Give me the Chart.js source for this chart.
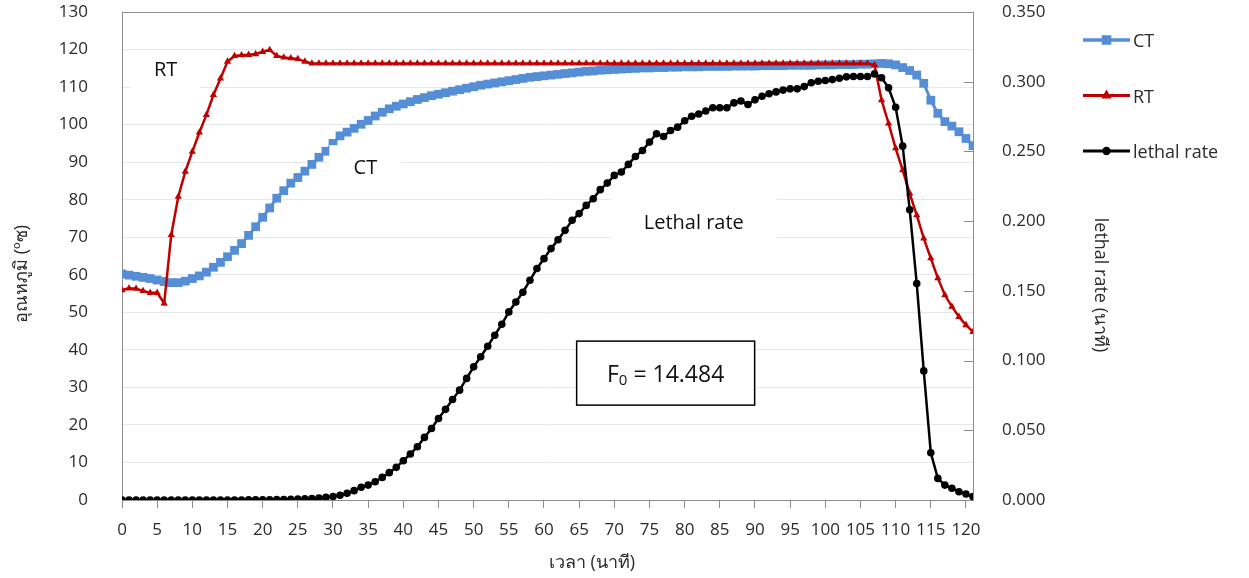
<!DOCTYPE html>
<html>
<head>
<meta charset="utf-8">
<script src="https://cdn.jsdelivr.net/npm/chart.js@4.4.1/dist/chart.umd.min.js"></script>
<style>
  html, body { margin: 0; padding: 0; background: #fff; }
  #wrap { width: 1249px; height: 578px; position: relative; }
</style>
</head>
<body>
<div id="wrap"><canvas id="chart"></canvas></div>
<script>
// เวลา (นาที)
const minutes = [
  0, 1, 2, 3, 4, 5, 6, 7, 8, 9, 10, 11, 12, 13, 14, 15, 16, 17, 18, 19,
  20, 21, 22, 23, 24, 25, 26, 27, 28, 29, 30, 31, 32, 33, 34, 35, 36, 37, 38, 39,
  40, 41, 42, 43, 44, 45, 46, 47, 48, 49, 50, 51, 52, 53, 54, 55, 56, 57, 58, 59,
  60, 61, 62, 63, 64, 65, 66, 67, 68, 69, 70, 71, 72, 73, 74, 75, 76, 77, 78, 79,
  80, 81, 82, 83, 84, 85, 86, 87, 88, 89, 90, 91, 92, 93, 94, 95, 96, 97, 98, 99,
  100, 101, 102, 103, 104, 105, 106, 107, 108, 109, 110, 111, 112, 113, 114, 115,
  116, 117, 118, 119, 120, 121
]
const xTickLabels = [0, 5, 10, 15, 20, 25, 30, 35, 40, 45, 50, 55, 60, 65, 70, 75, 80, 85, 90, 95, 100, 105, 110, 115, 120]

// CT
const ctTemp = [
  60.2, 59.9, 59.6, 59.3, 59.0, 58.6, 58.2, 57.9, 57.9, 58.3,
  59.0, 59.7, 60.7, 62.0, 63.3, 64.8, 66.5, 68.3, 70.5, 72.8,
  75.3, 77.8, 80.4, 82.4, 84.4, 85.9, 87.6, 89.4, 91.3, 92.9,
  95.0, 97.0, 98.0, 99.0, 100.1, 101.1, 102.3, 103.3, 104.2, 104.9,
  105.5, 106.1, 106.7, 107.2, 107.7, 108.1, 108.5, 108.9, 109.3, 109.7,
  110.1, 110.5, 110.8, 111.1, 111.4, 111.7, 112.0, 112.3, 112.6, 112.8,
  113.0, 113.2, 113.4, 113.6, 113.8, 114.0, 114.2, 114.3, 114.5, 114.6,
  114.7, 114.8, 114.9, 115.0, 115.1, 115.1, 115.2, 115.2, 115.3, 115.3,
  115.4, 115.4, 115.4, 115.5, 115.5, 115.5, 115.5, 115.6, 115.6, 115.6,
  115.6, 115.7, 115.7, 115.7, 115.7, 115.8, 115.8, 115.8, 115.8, 115.9,
  115.9, 115.9, 116.0, 116.0, 116.0, 116.1, 116.1, 116.2, 116.3, 116.2,
  115.9, 115.2, 114.4, 113.2, 111.0, 106.5, 103.0, 100.8, 99.6, 98.1, 96.3, 94.4
]

// RT
const rtTemp = [
  55.9, 56.4, 56.3, 55.7, 55.2, 55.2, 52.4, 70.6, 80.8, 87.5,
  92.8, 97.9, 102.6, 107.9, 112.3, 116.8, 118.3, 118.5, 118.6, 118.8,
  119.4, 119.9, 118.3, 117.9, 117.7, 117.5, 116.8, 116.3, 116.3, 116.3,
  116.3, 116.3, 116.3, 116.3, 116.3, 116.3, 116.3, 116.3, 116.3, 116.3,
  116.3, 116.3, 116.3, 116.3, 116.3, 116.3, 116.3, 116.3, 116.3, 116.3,
  116.3, 116.3, 116.3, 116.3, 116.3, 116.3, 116.3, 116.3, 116.3, 116.3,
  116.3, 116.3, 116.3, 116.3, 116.3, 116.3, 116.3, 116.3, 116.3, 116.3,
  116.3, 116.3, 116.3, 116.3, 116.3, 116.3, 116.3, 116.3, 116.3, 116.3,
  116.3, 116.3, 116.3, 116.3, 116.3, 116.3, 116.3, 116.3, 116.3, 116.3,
  116.3, 116.3, 116.3, 116.3, 116.3, 116.3, 116.3, 116.3, 116.3, 116.3,
  116.3, 116.3, 116.3, 116.3, 116.3, 116.3, 116.3, 115.9, 106.5, 100.3,
  93.7, 87.9, 81.7, 75.9, 69.7, 64.4, 59.1, 54.6, 51.5, 48.8, 46.6, 44.8
]

// lethal rate
const lethalRate = [
  0, 0, 0, 0, 0, 0, 0, 0, 0, 0,
  0, 0, 0, 0, 0, 0, 0, 0, 0.0001, 0.0001,
  0.0002, 0.0002, 0.0003, 0.0004, 0.0005, 0.0006, 0.0008, 0.0011, 0.0014, 0.0019,
  0.0025, 0.0034, 0.0048, 0.0067, 0.0091, 0.0107, 0.0131, 0.0162, 0.0196, 0.0234,
  0.0282, 0.0330, 0.0382, 0.0449, 0.0513, 0.0585, 0.0650, 0.0721, 0.0788, 0.0872,
  0.0955, 0.1027, 0.1103, 0.1182, 0.1260, 0.1349, 0.1420, 0.1490, 0.1576, 0.1660,
  0.1731, 0.1803, 0.1867, 0.1934, 0.2006, 0.2054, 0.2113, 0.2161, 0.2226, 0.2273,
  0.2328, 0.2352, 0.2407, 0.2464, 0.2507, 0.2567, 0.2627, 0.2607, 0.2650, 0.2674,
  0.2720, 0.2752, 0.2768, 0.2790, 0.2813, 0.2813, 0.2813, 0.2848, 0.2862, 0.2837,
  0.2870, 0.2896, 0.2914, 0.2927, 0.2940, 0.2949, 0.2949, 0.2965, 0.2993, 0.3003,
  0.3009, 0.3015, 0.3025, 0.3035, 0.3037, 0.3037, 0.3037, 0.3056, 0.3028, 0.2956,
  0.2817, 0.2538, 0.2082, 0.1552, 0.0926, 0.0339, 0.0155, 0.0107, 0.0084, 0.0059, 0.0043, 0.0024
]

const FONT = "'Open Sans', 'Noto Sans', 'DejaVu Sans', sans-serif"
const TEXT = "#2b2b2b"
const AXIS = "#8c8c8c"

const series = [
  { label: "CT", data: ctTemp, color: "#558ed5", style: "rect", radius: 6.2, width: 3, axis: "y", order: 2 },
  { label: "RT", data: rtTemp, color: "#c00000", style: "triangle", radius: 4.2, width: 2.5, axis: "y", order: 1 },
  { label: "lethal rate", data: lethalRate, color: "#000000", style: "circle", radius: 3.8, width: 2.5, axis: "y2", order: 0 }
]

// ข้อความในกราฟ (ตำแหน่งตามค่าบนแกน)
const notes = [
  { text: "RT", t: 6.2, temp: 114.5, w: 70, h: 40 },
  { text: "CT", t: 34.6, temp: 88.4, w: 72, h: 46 },
  { text: "Lethal rate", t: 81.3, temp: 73.8, w: 165, h: 54 }
]

// ตัดระยะเผื่อของป้ายแกนตั้ง ให้พื้นที่กราฟชิดขอบบน
const noPad = axis => {
  axis.paddingTop = 0
  axis.paddingBottom = 0
}

const decor = {
  id: "decor",
  beforeDatasetsDraw(chart) {
    const { ctx, chartArea: a } = chart
    ctx.save()
    ctx.strokeStyle = AXIS
    ctx.lineWidth = 1
    ctx.strokeRect(Math.round(a.left) + 0.5, Math.round(a.top) + 0.5,
      Math.round(a.right - a.left), Math.round(a.bottom - a.top))
    // ขีดแกนขวาชี้เข้าด้านใน
    const y2 = chart.scales.y2
    y2.ticks.forEach(tk => {
      const py = Math.round(y2.getPixelForValue(tk.value)) + 0.5
      ctx.beginPath()
      ctx.moveTo(a.right - 9, py)
      ctx.lineTo(a.right, py)
      ctx.stroke()
    })
    ctx.restore()
  },
  afterDatasetsDraw(chart) {
    const { ctx, chartArea: a } = chart
    const xs = chart.scales.x
    const ys = chart.scales.y
    ctx.save()
    ctx.textAlign = "center"
    ctx.textBaseline = "middle"

    notes.forEach(n => {
      const px = xs.getPixelForValue(n.t)
      const py = ys.getPixelForValue(n.temp)
      ctx.fillStyle = "#fff"
      ctx.fillRect(px - n.w / 2, py - n.h / 2, n.w, n.h)
      ctx.fillStyle = "#111"
      ctx.font = "20px " + FONT
      ctx.fillText(n.text, px, py)
    })

    // กล่อง F0
    const bx = xs.getPixelForValue(77.3)
    const by = ys.getPixelForValue(33.8)
    ctx.fillStyle = "#fff"
    ctx.fillRect(bx - 89, by - 32, 178, 64)
    ctx.strokeStyle = "#000"
    ctx.lineWidth = 1.5
    ctx.strokeRect(bx - 89, by - 32, 178, 64)
    ctx.fillStyle = "#111"
    ctx.textAlign = "left"
    ctx.font = "23px " + FONT
    const fW = ctx.measureText("F").width
    ctx.font = "15px " + FONT
    const subW = ctx.measureText("0").width
    ctx.font = "23px " + FONT
    const rest = " = 14.484"
    const total = fW + subW + ctx.measureText(rest).width
    let tx = bx - total / 2
    ctx.fillText("F", tx, by + 2)
    tx += fW
    ctx.font = "15px " + FONT
    ctx.fillText("0", tx, by + 8)
    tx += subW
    ctx.font = "23px " + FONT
    ctx.fillText(rest, tx, by + 2)

    // คำอธิบายสัญลักษณ์
    const lx = a.right + 110
    series.forEach((s, i) => {
      const ly = 40 + i * 55.5
      ctx.strokeStyle = s.color
      ctx.lineWidth = s.width + 0.5
      ctx.beginPath()
      ctx.moveTo(lx, ly)
      ctx.lineTo(lx + 47, ly)
      ctx.stroke()
      Chart.helpers.drawPoint(ctx, {
        pointStyle: s.style, radius: s.radius * 0.7, borderWidth: 1,
        rotation: 0
      }, lx + 23.5, ly)
      ctx.fillStyle = s.color
      ctx.fill()
      ctx.fillStyle = TEXT
      ctx.font = "18px " + FONT
      ctx.textAlign = "left"
      ctx.fillText(s.label, lx + 50, ly + 2)
    })

    // ชื่อแกน
    ctx.fillStyle = TEXT
    ctx.font = "18px " + FONT
    ctx.textAlign = "center"
    ctx.fillText("เวลา (นาที)", 592, 563)

    ctx.save()
    ctx.translate(22, 274)
    ctx.rotate(-Math.PI / 2)
    ctx.fillText("อุณหภูมิ (ºซ)", 0, 0)
    ctx.restore()

    ctx.save()
    ctx.translate(1100, 285)
    ctx.rotate(Math.PI / 2)
    ctx.fillText("lethal rate (นาที)", 0, 0)
    ctx.restore()

    ctx.restore()
  }
}

new Chart(document.getElementById("chart"), {
  type: "line",
  data: {
    labels: minutes,
    datasets: series.map(s => ({
      label: s.label,
      data: s.data,
      yAxisID: s.axis,
      order: s.order,
      borderColor: s.color,
      backgroundColor: s.color,
      borderWidth: s.width,
      pointStyle: s.style,
      pointRadius: s.radius,
      pointBorderWidth: 0,
      tension: 0,
      fill: false
    }))
  },
  options: {
    responsive: true,
    maintainAspectRatio: false,
    animation: false,
    events: [],
    layout: { padding: { top: 12, left: 0, right: 0, bottom: 0 } },
    plugins: {
      legend: { display: false },
      tooltip: { enabled: false }
    },
    scales: {
      x: {
        type: "linear",
        min: 0,
        max: 121,
        afterBuildTicks: axis => { axis.ticks = xTickLabels.map(v => ({ value: v })) },
        afterFit: axis => {
          axis.height = 78
          axis.paddingLeft = 0
          axis.paddingRight = 0
        },
        border: { display: false },
        grid: { drawOnChartArea: false, color: AXIS, tickLength: 8 },
        ticks: {
          autoSkip: false, maxRotation: 0, minRotation: 0, padding: 12,
          color: TEXT, font: { family: FONT, size: 17 }
        }
      },
      y: {
        position: "left",
        min: 0,
        max: 130,
        afterFit: axis => {
          axis.width = 122
          noPad(axis)
        },
        border: { display: false },
        grid: { color: "#e8e8e8", drawTicks: false },
        ticks: { stepSize: 10, padding: 34, color: TEXT, font: { family: FONT, size: 17 } }
      },
      y2: {
        position: "right",
        min: 0,
        max: 0.35,
        afterFit: axis => {
          axis.width = 276
          noPad(axis)
        },
        border: { display: false },
        grid: { display: false, drawTicks: false },
        ticks: {
          stepSize: 0.05, padding: 29, color: TEXT, font: { family: FONT, size: 17 },
          callback: v => v.toFixed(3)
        }
      }
    }
  },
  plugins: [decor]
})
</script>
</body>
</html>
